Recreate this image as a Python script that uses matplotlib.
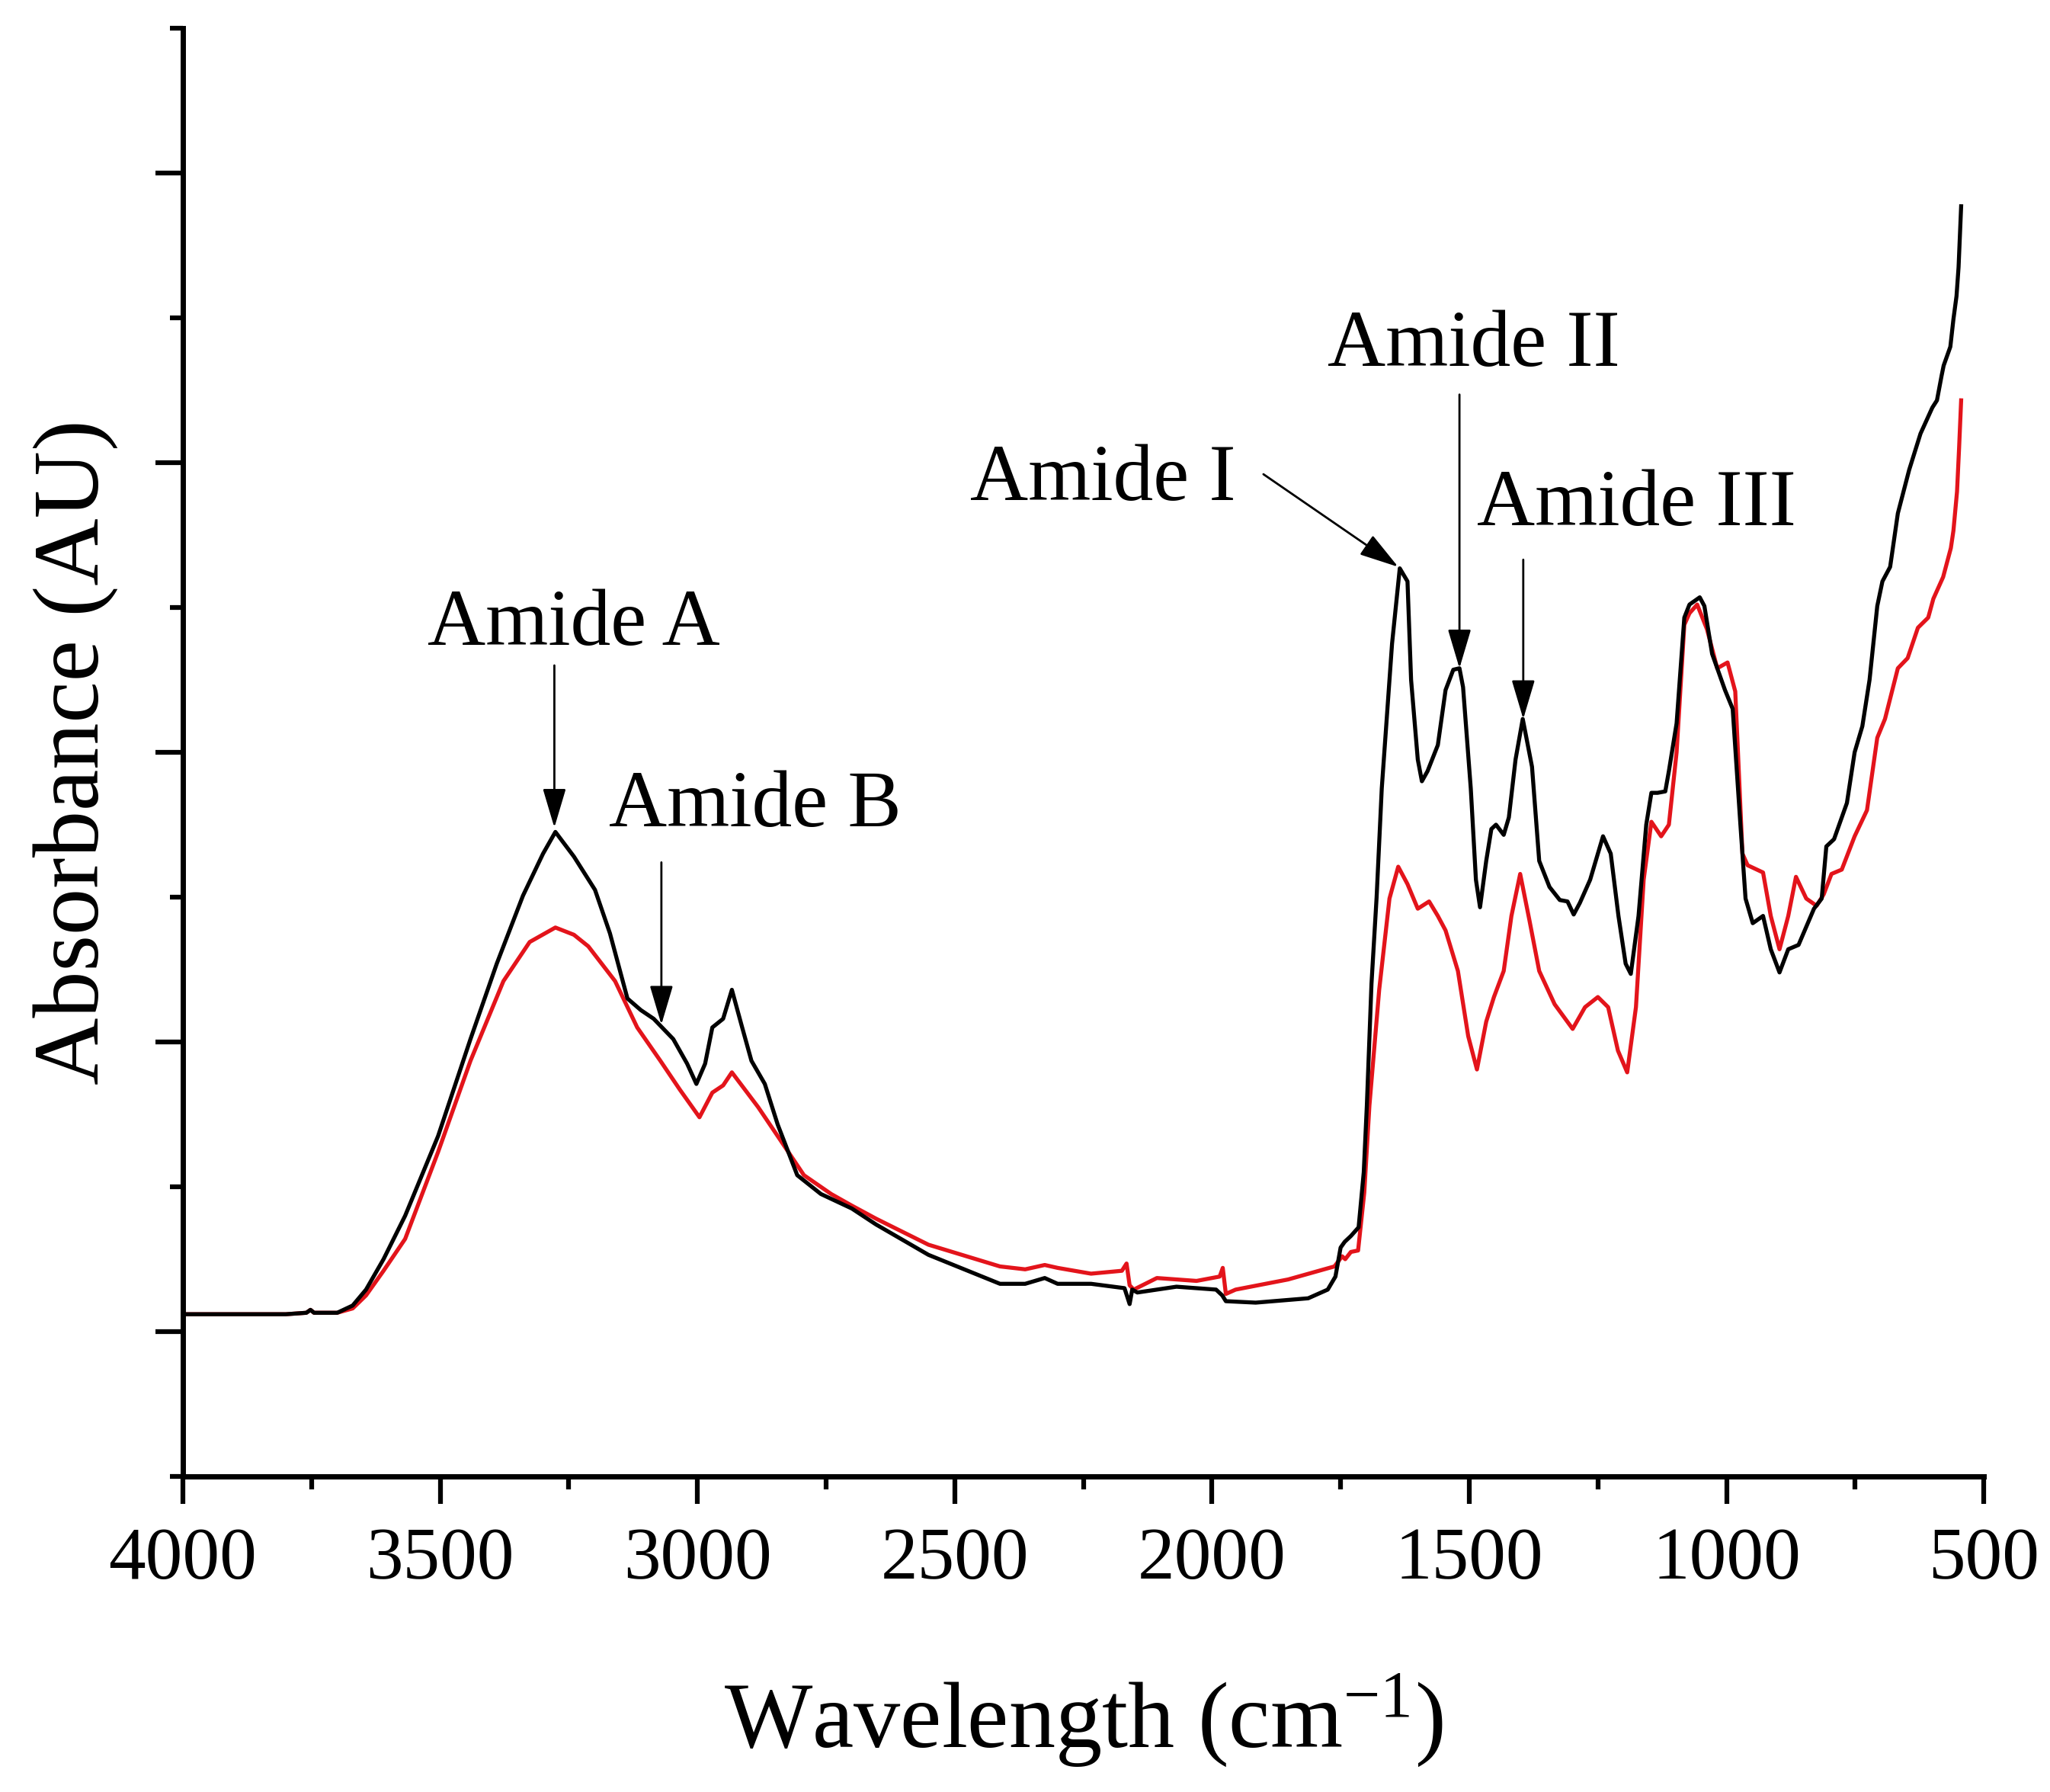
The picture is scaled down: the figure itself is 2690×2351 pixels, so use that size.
import matplotlib

matplotlib.use("Agg")
import matplotlib.pyplot as plt
from matplotlib.ticker import MultipleLocator, FixedLocator, NullFormatter

plt.rcParams["font.family"] = ["Liberation Serif", "DejaVu Serif"]
plt.rcParams["mathtext.fontset"] = "custom"
plt.rcParams["mathtext.rm"] = "Liberation Serif"
plt.rcParams["mathtext.it"] = "Liberation Serif:italic"

# black spectrum (wavenumber, absorbance AU)
black_x = [4000, 3900, 3800, 3760, 3752, 3745, 3700, 3670, 3644, 3610,
           3568, 3504, 3441, 3390, 3339, 3300, 3276, 3240, 3199, 3170,
           3136, 3110, 3085, 3047, 3020, 3002, 2985, 2971, 2950, 2933,
           2913, 2895, 2869, 2844, 2806, 2760, 2700, 2653, 2551, 2412,
           2363, 2325, 2300, 2235, 2170, 2160, 2155, 2145, 2069, 1992,
           1980, 1973, 1915, 1813, 1775, 1760, 1750, 1742, 1730, 1715,
           1705, 1699, 1690, 1680, 1670, 1650, 1635, 1620, 1613, 1600,
           1592, 1581, 1561, 1546, 1531, 1519, 1512, 1497, 1487, 1479,
           1467, 1457, 1448, 1433, 1423, 1410, 1396, 1378, 1364, 1344,
           1324, 1309, 1297, 1285, 1265, 1240, 1225, 1210, 1196, 1186,
           1171, 1156, 1146, 1134, 1119, 1112, 1097, 1082, 1072, 1052,
           1043, 1028, 1018, 1003, 988, 973, 963, 949, 929, 914,
           897, 880, 860, 830, 815, 806, 791, 766, 751, 736,
           722, 707, 697, 682, 667, 645, 623, 600, 591, 582,
           578, 570, 565, 559, 553, 549, 546, 544]
black_y = [1.12, 1.12, 1.12, 1.13, 1.15, 1.13, 1.13, 1.18, 1.29, 1.50,
           1.80, 2.35, 3.02, 3.54, 4.01, 4.30, 4.45, 4.28, 4.05, 3.75,
           3.30, 3.22, 3.16, 3.02, 2.85, 2.71, 2.85, 3.10, 3.16, 3.36,
           3.10, 2.87, 2.71, 2.43, 2.08, 1.95, 1.85, 1.74, 1.53, 1.33,
           1.33, 1.37, 1.33, 1.33, 1.30, 1.19, 1.29, 1.27, 1.31, 1.29,
           1.25, 1.21, 1.20, 1.23, 1.29, 1.38, 1.58, 1.62, 1.66, 1.72,
           2.10, 2.56, 3.40, 4.00, 4.75, 5.75, 6.27, 6.18, 5.50, 4.95,
           4.80, 4.87, 5.05, 5.43, 5.57, 5.58, 5.45, 4.75, 4.12, 3.93,
           4.25, 4.47, 4.50, 4.43, 4.55, 4.95, 5.23, 4.90, 4.25, 4.07,
           3.98, 3.97, 3.88, 3.96, 4.12, 4.42, 4.30, 3.87, 3.54, 3.47,
           3.87, 4.50, 4.72, 4.72, 4.73, 4.87, 5.20, 5.93, 6.02, 6.07,
           6.01, 5.68, 5.58, 5.43, 5.30, 4.50, 3.99, 3.82, 3.87, 3.64,
           3.48, 3.64, 3.67, 3.92, 3.99, 4.35, 4.40, 4.65, 5.00, 5.18,
           5.50, 6.01, 6.18, 6.28, 6.65, 6.95, 7.20, 7.38, 7.43, 7.60,
           7.67, 7.75, 7.80, 7.99, 8.15, 8.35, 8.60, 8.77]

# red spectrum
red_x = [4000, 3900, 3800, 3760, 3752, 3745, 3700, 3670, 3644, 3610,
         3568, 3504, 3441, 3377, 3326, 3276, 3240, 3212, 3160, 3117,
         3072, 3034, 2996, 2971, 2950, 2933, 2882, 2844, 2793, 2740,
         2700, 2653, 2551, 2412, 2363, 2325, 2300, 2235, 2175, 2166,
         2160, 2152, 2107, 2030, 1985, 1979, 1973, 1954, 1852, 1762,
         1747, 1741, 1730, 1716, 1704, 1694, 1675, 1655, 1638, 1620,
         1600, 1578, 1561, 1546, 1522, 1502, 1485, 1467, 1452, 1433,
         1418, 1401, 1383, 1364, 1334, 1299, 1275, 1250, 1230, 1211,
         1193, 1176, 1161, 1146, 1127, 1112, 1097, 1082, 1072, 1057,
         1038, 1018, 998, 983, 969, 959, 929, 914, 897, 880,
         865, 845, 825, 811, 796, 776, 751, 727, 707, 692,
         667, 648, 628, 608, 598, 579, 564, 559, 552, 548,
         544]
red_y = [1.12, 1.12, 1.12, 1.13, 1.15, 1.13, 1.13, 1.16, 1.25, 1.42,
         1.64, 2.24, 2.87, 3.42, 3.69, 3.79, 3.74, 3.66, 3.42, 3.10,
         2.87, 2.67, 2.48, 2.65, 2.70, 2.79, 2.55, 2.35, 2.08, 1.95,
         1.87, 1.78, 1.60, 1.45, 1.43, 1.46, 1.44, 1.40, 1.42, 1.47,
         1.32, 1.29, 1.37, 1.35, 1.38, 1.44, 1.26, 1.29, 1.36, 1.45,
         1.52, 1.50, 1.55, 1.56, 1.96, 2.56, 3.36, 3.99, 4.21, 4.09,
         3.92, 3.97, 3.87, 3.77, 3.49, 3.04, 2.81, 3.14, 3.31, 3.49,
         3.87, 4.16, 3.84, 3.49, 3.26, 3.09, 3.24, 3.31, 3.24, 2.94,
         2.79, 3.24, 4.12, 4.52, 4.42, 4.50, 5.00, 5.88, 5.96, 6.02,
         5.85, 5.58, 5.62, 5.42, 4.30, 4.22, 4.17, 3.87, 3.64, 3.87,
         4.14, 3.99, 3.94, 4.02, 4.16, 4.19, 4.42, 4.60, 5.10, 5.23,
         5.58, 5.65, 5.86, 5.93, 6.06, 6.21, 6.41, 6.53, 6.80, 7.10,
         7.43]

# band labels: text, text centre x, text baseline y, arrow tail, arrow tip
band_names = ["Amide A", "Amide B", "Amide I", "Amide II", "Amide III"]
label_xy = [(3240, 5.74), (2888, 4.49), (2212, 6.74), (1491, 7.67), (1175, 6.57)]
arrow_from = [(3278, 5.60), (3070, 4.24), (1900, 6.92), (1519, 7.47), (1395, 6.33)]
arrow_to = [(3278, 4.48), (3070, 3.12), (1638, 6.28), (1519, 5.58), (1395, 5.23)]

x_major = [4000, 3500, 3000, 2500, 2000, 1500, 1000, 500]

fig = plt.figure(figsize=(26.9, 23.51), dpi=100)
ax = fig.add_axes([0.0892, 0.1761, 0.8785, 0.8082])

ax.plot(red_x, red_y, color="#e3141b", lw=3.8, solid_joinstyle="round")
ax.plot(black_x, black_y, color="black", lw=3.8, solid_joinstyle="round")

for name, (tx, ty) in zip(band_names, label_xy):
    ax.text(tx, ty, name, ha="center", va="baseline", fontsize=76)
for p0, p1 in zip(arrow_from, arrow_to):
    ax.annotate("", xy=p1, xytext=p0,
                arrowprops=dict(arrowstyle="-|>,head_length=32,head_width=9.5",
                                mutation_scale=1, color="black", lw=2.0,
                                shrinkA=0, shrinkB=0))

ax.set_xlim(4000, 500)
ax.set_ylim(0, 10)
ax.xaxis.set_major_locator(FixedLocator(x_major))
ax.xaxis.set_minor_locator(MultipleLocator(250))
ax.yaxis.set_major_locator(FixedLocator([1, 3, 5, 7, 9]))
ax.yaxis.set_minor_locator(FixedLocator([0, 2, 4, 6, 8, 10]))
ax.yaxis.set_major_formatter(NullFormatter())

for side in ("top", "right"):
    ax.spines[side].set_visible(False)
for side in ("left", "bottom"):
    ax.spines[side].set_linewidth(5)

ax.tick_params(which="major", direction="out", length=26, width=4.5, labelsize=70, pad=22)
ax.tick_params(which="minor", direction="out", length=12.5, width=4.5)

ax.set_xlabel("Wavelength (cm$^{-1}$)", fontsize=88, va="baseline")
ax.xaxis.set_label_coords(0.5, -0.1868)
ax.set_ylabel("Absorbance (AU)", fontsize=88)
ax.yaxis.set_label_coords(-0.036, 0.5)

fig.savefig("out.png", dpi=100)
plt.close(fig)
